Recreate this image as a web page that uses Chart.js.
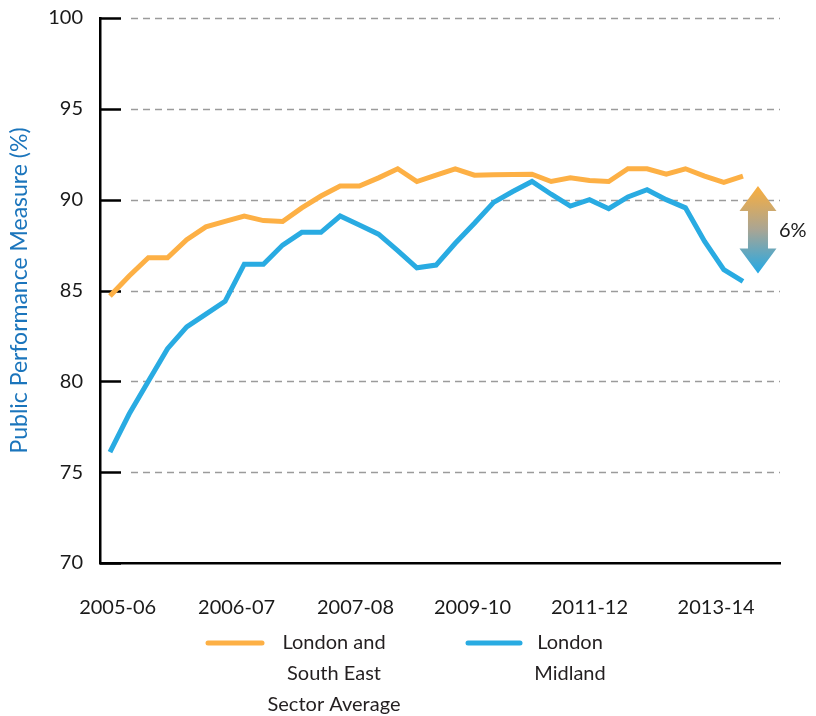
<!DOCTYPE html>
<html>
<head>
<meta charset="utf-8">
<title>Public Performance Measure</title>
<script src="https://cdn.jsdelivr.net/npm/chart.js@4.4.0/dist/chart.umd.min.js"></script>
<style>
  html, body { margin: 0; padding: 0; background: #fff; }
  #wrap { width: 816px; height: 716px; }
</style>
</head>
<body>
<div id="wrap"><canvas id="ppmChart" width="816" height="716"></canvas></div>
<script>
// PPM (%), one value per period
const lseAverage = [84.7, 85.8, 86.8, 86.8, 87.8, 88.5, 88.8, 89.1, 88.85, 88.8,
    89.55, 90.2, 90.75, 90.75, 91.2, 91.7, 91.0, 91.35, 91.7, 91.35,
    91.37, 91.38, 91.4, 91.0, 91.2, 91.05, 91.0, 91.7, 91.7, 91.4,
    91.7, 91.3, 90.95, 91.3];
const londonMidland = [76.1, 78.2, 80.0, 81.8, 83.0, 83.7, 84.4, 86.45, 86.45, 87.5,
    88.2, 88.2, 89.1, 88.6, 88.1, 87.2, 86.25, 86.4, 87.6, 88.7,
    89.85, 90.45, 91.0, 90.3, 89.65, 90.0, 89.5, 90.15, 90.55, 90.0,
    89.55, 87.7, 86.15, 85.5];

// x-axis labels and the period index each one sits under
const yearLabels = ['2005-06', '2006-07', '2007-08', '2009-10', '2011-12', '2013-14'];
const yearLabelAt = [0.4, 6.6, 12.8, 18.9, 25.0, 31.6];
const yTickValues = [70, 75, 80, 85, 90, 95, 100];

const seriesNames = [['London and', 'South East', 'Sector Average'], ['London', 'Midland']];
const gapLabel = '6%';

const ORANGE = '#FDB045';
const BLUE = '#29ABE2';
const FONT = 'Lato, "Open Sans", sans-serif';

const toPoints = arr => arr.map((v, i) => ({ x: i, y: v }));

// dashed gridlines with short black inner ticks
const gridPlugin = {
    id: 'ppmGrid',
    beforeDatasetsDraw(chart) {
        const { ctx, chartArea, scales } = chart;
        ctx.save();
        yTickValues.forEach(v => {
            const y = Math.round(scales.y.getPixelForValue(v)) + 0.5;
            ctx.setLineDash([]);
            ctx.strokeStyle = '#000';
            ctx.lineWidth = 2.5;
            ctx.beginPath();
            ctx.moveTo(chartArea.left, y);
            ctx.lineTo(chartArea.left + 21, y);
            ctx.stroke();
            if (v === 70) return;
            ctx.setLineDash([7, 5]);
            ctx.strokeStyle = '#9b9b9b';
            ctx.lineWidth = 1.5;
            ctx.beginPath();
            ctx.moveTo(chartArea.left + 31, y);
            ctx.lineTo(chartArea.right, y);
            ctx.stroke();
        });
        ctx.restore();
    }
};

// gradient double arrow showing the gap at the last period
const gapPlugin = {
    id: 'ppmGap',
    afterDatasetsDraw(chart) {
        const { ctx, scales } = chart;
        const last = lseAverage.length - 1;
        const cx = scales.x.getPixelForValue(last) + 15;
        const top = scales.y.getPixelForValue(lseAverage[last]) + 10;
        const bottom = scales.y.getPixelForValue(londonMidland[last]) - 8;
        const headH = 25, headW = 18.5, shaftW = 10;

        const grad = ctx.createLinearGradient(0, top, 0, bottom);
        grad.addColorStop(0, '#FBAE3C');
        grad.addColorStop(0.5, '#A9A594');
        grad.addColorStop(1, '#22A9E6');

        ctx.save();
        ctx.fillStyle = grad;
        ctx.beginPath();
        ctx.moveTo(cx, top);
        ctx.lineTo(cx + headW, top + headH);
        ctx.lineTo(cx + shaftW, top + headH);
        ctx.lineTo(cx + shaftW, bottom - headH);
        ctx.lineTo(cx + headW, bottom - headH);
        ctx.lineTo(cx, bottom);
        ctx.lineTo(cx - headW, bottom - headH);
        ctx.lineTo(cx - shaftW, bottom - headH);
        ctx.lineTo(cx - shaftW, top + headH);
        ctx.lineTo(cx - headW, top + headH);
        ctx.closePath();
        ctx.fill();

        ctx.fillStyle = '#1a1a1a';
        ctx.font = '20px ' + FONT;
        ctx.textAlign = 'left';
        ctx.textBaseline = 'middle';
        ctx.fillText(gapLabel, cx + 21, (top + bottom) / 2 + 1);
        ctx.restore();
    }
};

// legend under the axis, multi-line centred labels
const legendPlugin = {
    id: 'ppmLegend',
    afterDraw(chart) {
        const { ctx } = chart;
        const items = [
            { color: ORANGE, x0: 208, x1: 262, tx: 334, lines: seriesNames[0] },
            { color: BLUE, x0: 468, x1: 520, tx: 570, lines: seriesNames[1] }
        ];
        const y0 = 643, lh = 31;
        ctx.save();
        ctx.font = '20px ' + FONT;
        ctx.textAlign = 'center';
        ctx.textBaseline = 'middle';
        items.forEach(it => {
            ctx.strokeStyle = it.color;
            ctx.lineWidth = 5;
            ctx.lineCap = 'round';
            ctx.beginPath();
            ctx.moveTo(it.x0, y0);
            ctx.lineTo(it.x1, y0);
            ctx.stroke();
            ctx.fillStyle = '#231f20';
            it.lines.forEach((t, i) => ctx.fillText(t, it.tx, y0 + i * lh));
        });
        ctx.restore();
    }
};

new Chart(document.getElementById('ppmChart'), {
    type: 'line',
    data: {
        datasets: [
            {
                label: 'London and South East Sector Average',
                data: toPoints(lseAverage),
                borderColor: ORANGE,
                borderWidth: 5,
                pointRadius: 0,
                tension: 0,
                fill: false
            },
            {
                label: 'London Midland',
                data: toPoints(londonMidland),
                borderColor: BLUE,
                borderWidth: 5,
                pointRadius: 0,
                tension: 0,
                fill: false
            }
        ]
    },
    options: {
        responsive: false,
        animation: false,
        layout: { padding: { top: 18, right: 36, bottom: 93, left: 0 } },
        plugins: {
            legend: { display: false },
            tooltip: { enabled: false }
        },
        scales: {
            x: {
                type: 'linear',
                min: -0.52,
                max: 34.93,
                grid: { display: false, drawTicks: false },
                border: { display: true, color: '#000', width: 2.5 },
                afterBuildTicks: axis => {
                    axis.ticks = yearLabelAt.map(v => ({ value: v }));
                },
                afterFit: axis => { axis.height = 60; },
                ticks: {
                    autoSkip: false,
                    maxRotation: 0,
                    padding: 33,
                    color: '#1a1a1a',
                    font: { family: FONT, size: 20 },
                    callback: value => yearLabels[yearLabelAt.indexOf(value)] || ''
                }
            },
            y: {
                min: 70,
                max: 100,
                grid: { display: false, drawTicks: false },
                border: { display: true, color: '#000', width: 2.5 },
                afterFit: axis => {
                    axis.width = 100;
                    axis.paddingTop = 0;
                    axis.paddingBottom = 0;
                },
                ticks: {
                    stepSize: 5,
                    padding: 17,
                    color: '#1a1a1a',
                    font: { family: FONT, size: 20 }
                },
                title: {
                    display: true,
                    text: 'Public Performance Measure (%)',
                    color: '#1B75BC',
                    font: { family: FONT, size: 23 },
                    padding: { top: 6, bottom: 0 }
                }
            }
        }
    },
    plugins: [gridPlugin, gapPlugin, legendPlugin]
});
</script>
</body>
</html>
